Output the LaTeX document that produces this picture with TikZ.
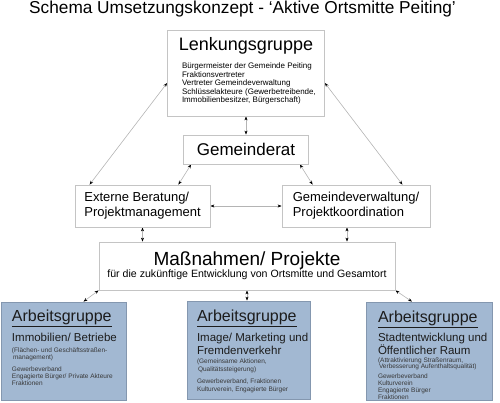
\documentclass[tikz,border=0pt]{standalone}
\usepackage{fontspec}
\setmainfont{Liberation Sans}
\usetikzlibrary{arrows.meta, positioning, calc}
\definecolor{boxgray}{HTML}{C4C4C4}
\definecolor{linegray}{HTML}{B4B4B4}
\definecolor{agblue}{HTML}{A2B8D2}
\definecolor{agborder}{HTML}{8497AF}
\definecolor{textdark}{HTML}{1C1C1C}
\definecolor{textsoft}{HTML}{383838}
\newcommand{\fsz}[2]{\fontsize{#1}{#2}\selectfont}
\pgfdeclarelayer{background}
\pgfsetlayers{background,main}

\begin{document}
\begin{tikzpicture}[x=1pt, y=-1pt,
    base/.style={draw=boxgray, fill=white, line width=0.8pt, inner sep=0pt},
    lenk/.style={base, minimum width=157pt, minimum height=86pt},
    rat/.style={base, minimum width=125pt, minimum height=29pt,
      font=\fsz{17}{20}},
    stelle/.style={base, minimum height=42pt, align=left,
      font=\fsz{13}{15}},
    massn/.style={base, minimum width=296pt, minimum height=48pt,
      align=center},
    agbox/.style={draw=agborder, fill=agblue, line width=0.8pt,
      inner sep=0pt, minimum height=98pt, text=textdark},
    titel/.style={font=\fsz{17.25}{20}, anchor=base, inner sep=0pt},
    arrow/.style={{Stealth[length=4pt, width=3pt, color=black]}-%
      {Stealth[length=4pt, width=3pt, color=black]},
      color=linegray, line width=0.6pt},
]
\useasboundingbox (0,0) rectangle (500,402);
% Nodes
\node[titel] (titel) at (242.5,13.5)
    {Schema Umsetzungskonzept - ‘Aktive Ortsmitte Peiting’};
\node[lenk] (lenk) at (246,73)
    {\parbox[c][72pt][t]{146pt}{\centering\fsz{18}{20}Lenkungsgruppe\par
     \vspace{8pt}\raggedright\leftskip=9pt\fsz{8}{8.6}%
     Bürgermeister der Gemeinde Peiting\\Fraktionsvertreter\\
     Vertreter Gemeindeverwaltung\\Schlüsselakteure (Gewerbetreibende,\\
     Immobilienbesitzer, Bürgerschaft)}};
\node[rat] (gem) at (246,149.5) {Gemeinderat};
\node[stelle, minimum width=135pt] (ext) at (142.5,206)
    {Externe Beratung/\\Projektmanagement};
\node[stelle, minimum width=148pt] (gv) at (356,206)
    {Gemeindeverwaltung/\\Projektkoordination\hspace*{4pt}};
\node[massn] (mass) at (247,266)
    {\fsz{19}{21}Maßnahmen/ Projekte\\[0pt]
     \fsz{10.6}{12}für die zukünftige Entwicklung von Ortsmitte und Gesamtort};
\node[agbox, minimum width=125pt] (ag1) at (63.5,351)
    {\parbox[c][82pt][t]{120pt}{\raggedright\leftskip=8.5pt
     {\fsz{16}{18}\underline{Arbeitsgruppe}\par}\vspace{5pt}
     {\fsz{11.5}{13}Immobilien/ Betriebe\par}\vspace{3pt}
     {\color{textsoft}\fsz{6.5}{7.8}(Flächen- und Geschäftsstraßen-\\
      \hspace*{1pt}management)\par}\vspace{5pt}
     {\color{textsoft}\fsz{6.5}{7}Gewerbeverband\\
      Engagierte Bürger/ Private Akteure\\Fraktionen\par}}};
\node[agbox, minimum width=123pt] (ag2) at (248.5,350)
    {\parbox[c][80pt][t]{120pt}{\raggedright\leftskip=8.5pt
     {\fsz{16}{18}\underline{Arbeitsgruppe}\par}\vspace{5pt}
     {\fsz{11.5}{13}Image/ Marketing und\\Fremdenverkehr\par}\vspace{2pt}
     {\color{textsoft}\fsz{6.5}{7.5}(Gemeinsame Aktionen,\\
      \hspace*{1pt}Qualitätssteigerung)\par}\vspace{5pt}
     {\color{textsoft}\fsz{6.5}{7.5}Gewerbeverband, Fraktionen\\
      Kulturverein, Engagierte Bürger\par}}};
\node[agbox, minimum width=126pt] (ag3) at (429,351)
    {\parbox[c][80pt][t]{120pt}{\raggedright\leftskip=9pt
     {\fsz{16}{18}\underline{Arbeitsgruppe}\par}\vspace{4pt}
     {\fsz{11.5}{13}Stadtentwicklung und\\Öffentlicher Raum\par}\vspace{1pt}
     {\color{textsoft}\fsz{6.5}{6.8}(Attraktivierung Straßenraum,\\
      \hspace*{1pt}Verbesserung Aufenthaltsqualität)\par}\vspace{3pt}
     {\color{textsoft}\fsz{6.5}{7}Gewerbeverband\\Kulturverein\\
      Engagierte Bürger\\Fraktionen\par}}};
\coordinate (gvfuss) at ([xshift=-9pt]gv.south);
% Arrows
\begin{pgfonlayer}{background}
\draw[arrow] ([yshift=-10pt]lenk.west) -- ([xshift=15pt]ext.north west);
\draw[arrow] ([yshift=-10pt]lenk.east) -- ([xshift=-28pt]gv.north east);
\draw[arrow] (lenk.south) -- (gem.north);
\draw[arrow] ([xshift=8pt]gem.south west) -- ([xshift=-32pt]ext.north east);
\draw[arrow] ([xshift=-9pt]gem.south east) -- ([xshift=31pt]gv.north west);
\draw[arrow] (ext.east) -- (gv.west);
\draw[arrow] (ext.south) -- (ext.south |- mass.north);
\draw[arrow] (gvfuss) -- (gvfuss |- mass.north);
\draw[arrow] (mass.south west) -- ([xshift=20pt]ag1.north);
\draw[arrow] (mass.south) -- (mass.south |- ag2.north);
\draw[arrow] (mass.south east) -- ([xshift=-17pt]ag3.north);
\end{pgfonlayer}
\end{tikzpicture}
\end{document}
